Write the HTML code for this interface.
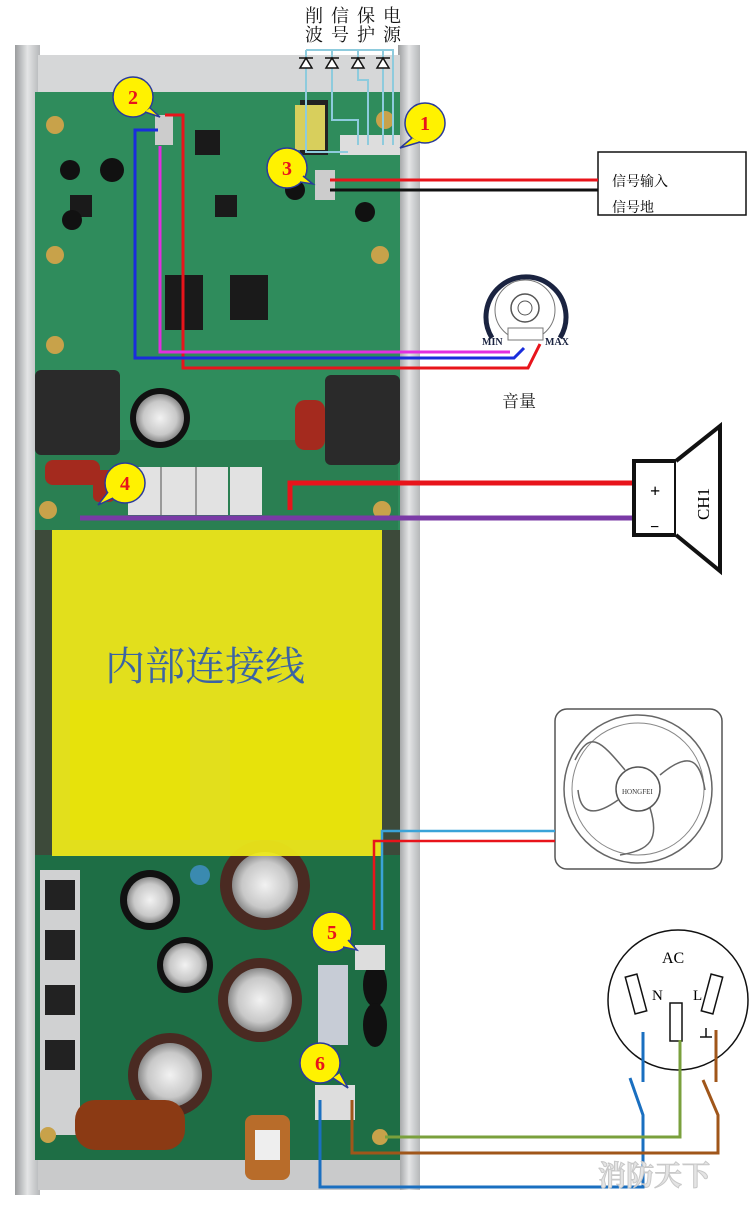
<!DOCTYPE html>
<html><head><meta charset="utf-8"><style>
html,body{margin:0;padding:0;background:#fff;}
svg{display:block;}
text{font-family:"Liberation Serif","Noto Serif CJK SC",serif;}
</style></head><body>
<svg width="750" height="1217" viewBox="0 0 750 1217" xmlns="http://www.w3.org/2000/svg">
<defs>
<linearGradient id="rail" x1="0" x2="1"><stop offset="0" stop-color="#9a9c9e"/><stop offset="0.5" stop-color="#e4e5e6"/><stop offset="1" stop-color="#b5b7b9"/></linearGradient>
<radialGradient id="cap"><stop offset="0" stop-color="#f2f2f2"/><stop offset="0.7" stop-color="#c8c8c8"/><stop offset="1" stop-color="#8a8a8a"/></radialGradient>
</defs>
<rect x="15" y="45" width="25" height="1150" fill="url(#rail)"/>
<rect x="398" y="45" width="22" height="1145" fill="url(#rail)"/>
<rect x="38" y="55" width="362" height="40" fill="#d6d7d8"/>
<rect x="38" y="1155" width="362" height="35" fill="#c9cacb"/>
<rect x="35" y="92" width="365" height="440" fill="#2f8c5c"/>
<rect x="36" y="440" width="362" height="95" fill="#2a7f52"/>
<rect x="35" y="530" width="365" height="330" fill="#3d4a3a"/>
<rect x="35" y="855" width="365" height="305" fill="#1e6e45"/>
<rect x="40" y="870" width="40" height="265" fill="#d0d1d2"/>
<g fill="#1a1a1a">
<rect x="165" y="275" width="38" height="55"/><rect x="230" y="275" width="38" height="45"/>
<rect x="195" y="130" width="25" height="25"/><rect x="215" y="195" width="22" height="22"/>
<rect x="70" y="195" width="22" height="22"/>
<rect x="35" y="370" width="85" height="85" rx="6" fill="#2a2a2a"/>
<rect x="325" y="375" width="75" height="90" rx="6" fill="#2a2a2a"/>
<rect x="300" y="100" width="28" height="55" fill="#222"/>
</g>
<circle cx="70" cy="170" r="10" fill="#111"/><circle cx="112" cy="170" r="12" fill="#111"/><circle cx="295" cy="190" r="10" fill="#111"/><circle cx="365" cy="212" r="10" fill="#111"/><circle cx="72" cy="220" r="10" fill="#111"/>
<circle cx="160" cy="418" r="30" fill="#111"/><circle cx="160" cy="418" r="24" fill="url(#cap)"/>
<rect x="295" y="400" width="30" height="50" rx="10" fill="#a42a1e"/>
<rect x="45" y="460" width="55" height="25" rx="8" fill="#a42a1e"/>
<rect x="93" y="470" width="22" height="32" rx="6" fill="#a42a1e"/>
<rect x="128" y="467" width="100" height="48" fill="#e2e2e2"/><rect x="160" y="467" width="2" height="48" fill="#999"/><rect x="195" y="467" width="2" height="48" fill="#999"/><rect x="230" y="467" width="32" height="48" fill="#e2e2e2"/>
<g fill="#c8a24a"><circle cx="55" cy="125" r="9"/><circle cx="55" cy="255" r="9"/><circle cx="380" cy="255" r="9"/><circle cx="55" cy="345" r="9"/><circle cx="48" cy="510" r="9"/><circle cx="382" cy="510" r="9"/><circle cx="385" cy="120" r="9"/></g>
<rect x="295" y="105" width="30" height="45" fill="#d8cf5c"/>
<rect x="340" y="135" width="60" height="20" fill="#ddd"/>
<rect x="315" y="170" width="20" height="30" fill="#ccc"/>
<rect x="155" y="115" width="18" height="30" fill="#ccc"/>
<circle cx="150" cy="900" r="30" fill="#111"/><circle cx="150" cy="900" r="23" fill="url(#cap)"/>
<circle cx="185" cy="965" r="28" fill="#111"/><circle cx="185" cy="965" r="22" fill="url(#cap)"/>
<circle cx="265" cy="885" r="45" fill="#4a2a22"/><circle cx="265" cy="885" r="33" fill="url(#cap)"/>
<circle cx="260" cy="1000" r="42" fill="#4a2a22"/><circle cx="260" cy="1000" r="32" fill="url(#cap)"/>
<circle cx="170" cy="1075" r="42" fill="#4a2a22"/><circle cx="170" cy="1075" r="32" fill="url(#cap)"/>
<circle cx="200" cy="875" r="10" fill="#3a8ab0"/>
<rect x="318" y="965" width="30" height="80" fill="#c7ccd6"/>
<ellipse cx="375" cy="985" rx="12" ry="22" fill="#111"/><ellipse cx="375" cy="1025" rx="12" ry="22" fill="#111"/>
<rect x="75" y="1100" width="110" height="50" rx="20" fill="#8b3a14"/>
<rect x="245" y="1115" width="45" height="65" rx="8" fill="#b86c2a"/><rect x="255" y="1130" width="25" height="30" fill="#eee"/>
<g fill="#222"><rect x="45" y="880" width="30" height="30"/><rect x="45" y="930" width="30" height="30"/><rect x="45" y="985" width="30" height="30"/><rect x="45" y="1040" width="30" height="30"/></g>
<rect x="355" y="945" width="30" height="25" fill="#ddd"/>
<rect x="315" y="1085" width="40" height="35" fill="#ddd"/>
<circle cx="380" cy="1137" r="8" fill="#c8a24a"/><circle cx="48" cy="1135" r="8" fill="#c8a24a"/>
<rect x="52" y="530" width="330" height="326" fill="#f4ef1a" opacity="0.9"/>
<rect x="230" y="700" width="130" height="140" fill="#ebe400" opacity="0.6"/>
<rect x="70" y="700" width="120" height="140" fill="#ebe400" opacity="0.6"/>
<text x="105" y="680" font-size="40" fill="#3b63a4" font-family="Liberation Sans,Noto Sans CJK SC,sans-serif">内部连接线</text>
<g font-size="18" fill="#111" font-family="Noto Sans CJK SC,sans-serif" text-anchor="middle">
<text x="314" y="22">削</text><text x="314" y="41">波</text>
<text x="340" y="22">信</text><text x="340" y="41">号</text>
<text x="366" y="22">保</text><text x="366" y="41">护</text>
<text x="392" y="22">电</text><text x="392" y="41">源</text>
</g>
<g fill="none" stroke="#8ecbdd" stroke-width="2">
<path d="M306,50 V152 H348"/><path d="M306,50 H393 V145"/>
<path d="M332,50 V120 H358 V145"/><path d="M358,50 V80 H368 V145"/><path d="M383,50 V145"/>
</g>
<g stroke="#111" stroke-width="1.5" fill="#fff">
<path d="M300,68 L312,68 L306,58 Z"/><line x1="299" y1="58" x2="313" y2="58"/>
<path d="M326,68 L338,68 L332,58 Z"/><line x1="325" y1="58" x2="339" y2="58"/>
<path d="M352,68 L364,68 L358,58 Z"/><line x1="351" y1="58" x2="365" y2="58"/>
<path d="M377,68 L389,68 L383,58 Z"/><line x1="376" y1="58" x2="390" y2="58"/>
</g>
<rect x="598" y="152" width="148" height="63" fill="#fff" stroke="#111" stroke-width="1.5"/>
<text x="612" y="186" font-size="14" font-family="Noto Sans CJK SC,sans-serif">信号输入</text>
<text x="612" y="212" font-size="14" font-family="Noto Sans CJK SC,sans-serif">信号地</text>
<line x1="330" y1="180" x2="598" y2="180" stroke="#e8141b" stroke-width="3"/>
<line x1="330" y1="190" x2="598" y2="190" stroke="#111" stroke-width="3"/>
<path d="M165,115 H183 V368 H528 L540,344" fill="none" stroke="#e8141b" stroke-width="3"/>
<path d="M158,130 H135 V358 H514 L524,348" fill="none" stroke="#1a2ddc" stroke-width="3"/>
<path d="M160,146 V352 H510" fill="none" stroke="#e22ee0" stroke-width="3"/>
<path d="M492,338 A40,40 0 1 1 560,338" fill="none" stroke="#1a2340" stroke-width="5"/>
<circle cx="525" cy="310" r="30" fill="#fff" stroke="#777" stroke-width="1"/>
<circle cx="525" cy="308" r="14" fill="none" stroke="#555" stroke-width="1.5"/><circle cx="525" cy="308" r="7" fill="none" stroke="#555"/>
<rect x="508" y="328" width="35" height="12" fill="#fff" stroke="#777"/>
<text x="482" y="345" font-size="10" font-weight="bold" font-family="Liberation Sans,sans-serif" fill="#1a2340">MIN</text>
<text x="545" y="345" font-size="10" font-weight="bold" font-family="Liberation Sans,sans-serif" fill="#1a2340">MAX</text>
<text x="502" y="407" font-size="17" font-family="Noto Sans CJK SC,sans-serif" fill="#222">音量</text>
<path d="M290,510 V483 H635" fill="none" stroke="#e8141b" stroke-width="5"/>
<line x1="80" y1="518" x2="635" y2="518" stroke="#7a3aa6" stroke-width="5"/>
<rect x="634" y="461" width="42" height="74" fill="#fff" stroke="#111" stroke-width="4"/>
<path d="M676,461 L720,426 V571 L676,535" fill="#fff" stroke="#111" stroke-width="4"/>
<text x="650" y="497" font-size="18" font-weight="bold" font-family="Liberation Sans,sans-serif">+</text>
<text x="650" y="532" font-size="16" font-weight="bold" font-family="Liberation Sans,sans-serif">−</text>
<text transform="translate(709,520) rotate(-90)" font-size="17">CH1</text>
<rect x="555" y="709" width="167" height="160" rx="12" fill="#fff" stroke="#555" stroke-width="1.5"/>
<circle cx="638" cy="789" r="74" fill="none" stroke="#666" stroke-width="1.5"/>
<circle cx="638" cy="789" r="66" fill="none" stroke="#888"/>
<circle cx="638" cy="789" r="22" fill="#fff" stroke="#555" stroke-width="1.5"/>
<g fill="none" stroke="#666" stroke-width="1.5">
<path d="M625,770 C600,740 590,730 575,760"/><path d="M660,775 C690,750 700,760 705,790"/><path d="M650,808 C660,840 650,850 620,855"/><path d="M618,800 C590,820 580,810 578,790"/>
</g>
<text x="622" y="794" font-size="7" fill="#333" font-family="Liberation Sans,sans-serif">HONGFEI</text>
<path d="M382,930 V831 H555" fill="none" stroke="#3aa3d8" stroke-width="2.5"/>
<path d="M374,930 V841 H555" fill="none" stroke="#e8141b" stroke-width="2.5"/>
<circle cx="678" cy="1000" r="70" fill="#fff" stroke="#111" stroke-width="1.5"/>
<text x="662" y="963" font-size="16">AC</text>
<text x="652" y="1000" font-size="15">N</text>
<text x="693" y="1000" font-size="15">L</text>
<rect x="630" y="975" width="12" height="38" fill="#fff" stroke="#111" stroke-width="1.5" transform="rotate(-15 636 994)"/>
<rect x="706" y="975" width="12" height="38" fill="#fff" stroke="#111" stroke-width="1.5" transform="rotate(15 712 994)"/>
<rect x="670" y="1003" width="12" height="38" fill="#fff" stroke="#111" stroke-width="1.5"/>
<path d="M700,1037 H712 M706,1028 V1037" stroke="#111" stroke-width="1.5"/>
<g fill="none" stroke-width="3">
<path d="M643,1032 V1082 M630,1078 L643,1115 V1187 H320 V1100" stroke="#1a6fc0"/>
<path d="M680,1040 V1137 H385" stroke="#7aa03c"/>
<path d="M716,1030 V1082 M703,1080 L718,1115 V1153 H352 V1100" stroke="#a0561a"/>
</g>
<text x="598" y="1185" font-size="28" font-weight="bold" fill="#e4e4e4" stroke="#c8c8c8" stroke-width="1" font-family="Noto Sans CJK SC,sans-serif">消防天下</text>
<g font-family="Liberation Sans,sans-serif" font-weight="bold" font-size="20" fill="#e8141b" text-anchor="middle">
<g stroke="#2a3a9a" stroke-width="1.5" fill="#fff200">
<circle cx="425" cy="123" r="20"/><path d="M412,138 L400,148 L420,142"/>
<circle cx="133" cy="97" r="20"/><path d="M145,112 L160,117 L150,108"/>
<circle cx="287" cy="168" r="20"/><path d="M300,182 L313,184 L303,176"/>
<circle cx="125" cy="483" r="20"/><path d="M113,498 L98,505 L108,492"/>
<circle cx="332" cy="932" r="20"/><path d="M343,947 L357,950 L348,940"/>
<circle cx="320" cy="1063" r="20"/><path d="M333,1078 L348,1088 L340,1073"/>
</g>
<text x="425" y="130">1</text><text x="133" y="104">2</text><text x="287" y="175">3</text><text x="125" y="490">4</text><text x="332" y="939">5</text><text x="320" y="1070">6</text>
</g>
</svg>
</body></html>
